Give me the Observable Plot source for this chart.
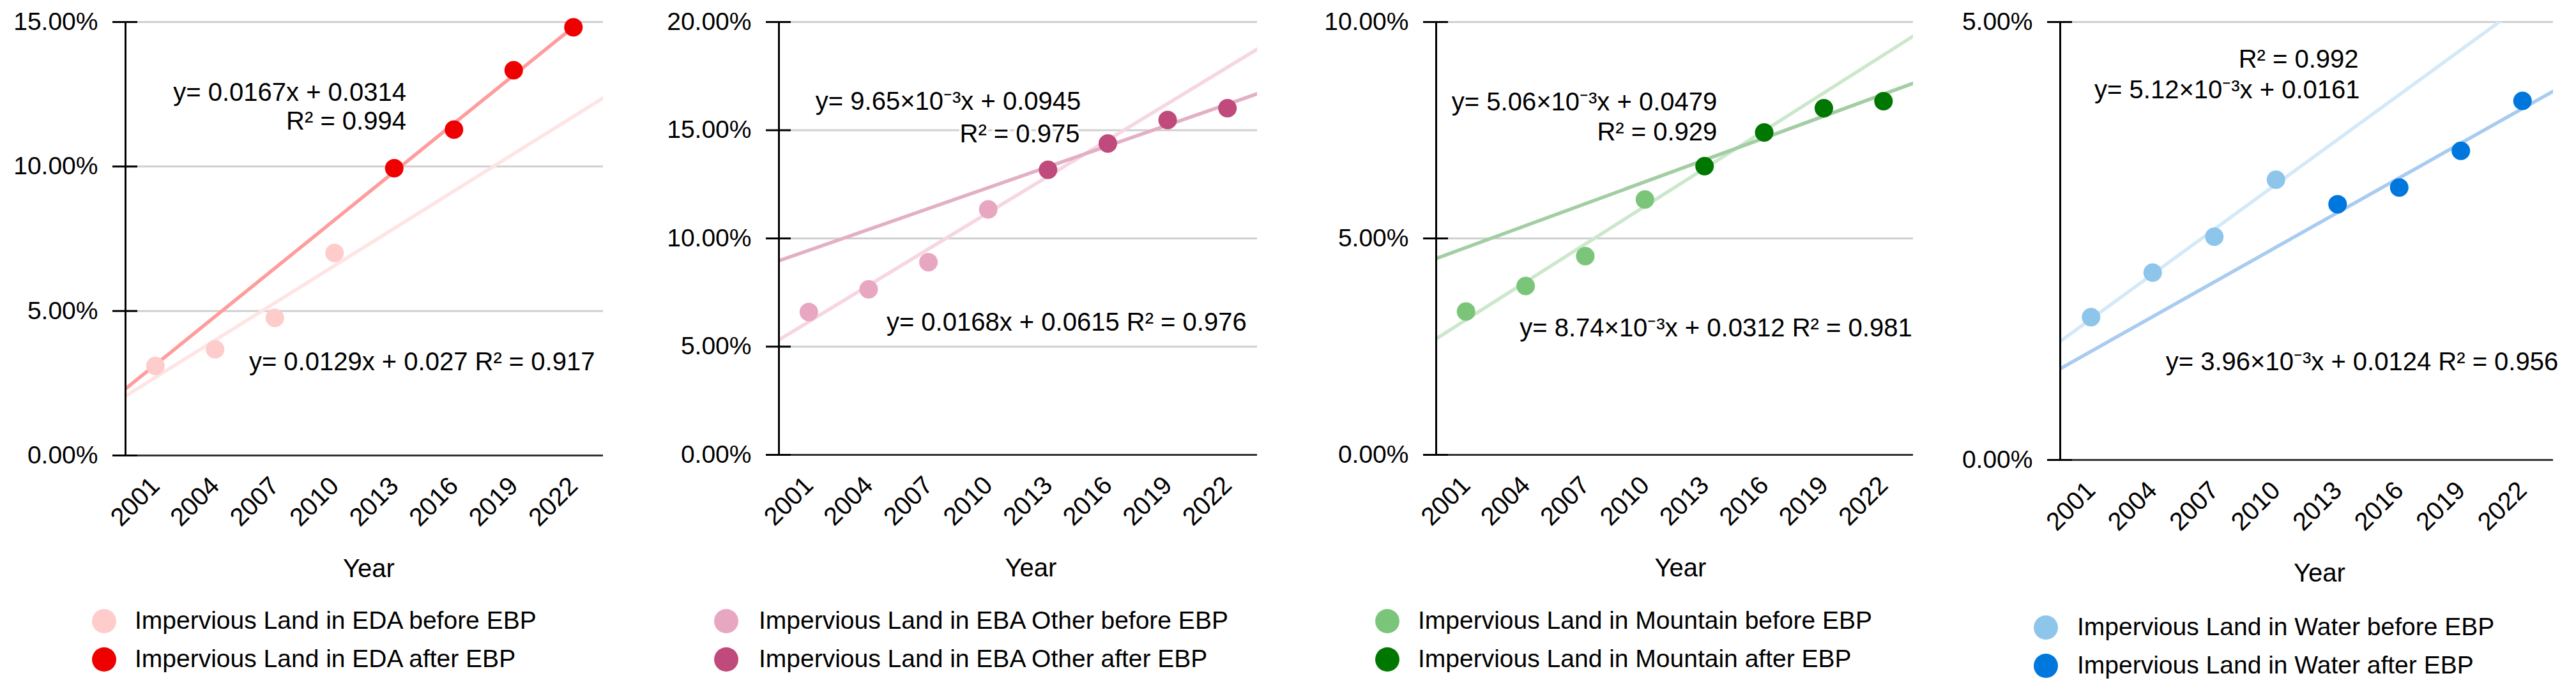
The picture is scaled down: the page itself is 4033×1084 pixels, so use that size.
<!DOCTYPE html>
<html><head><meta charset="utf-8">
<script src="https://cdn.jsdelivr.net/npm/d3@7"></script>
<script src="https://cdn.jsdelivr.net/npm/@observablehq/plot@0.6"></script>
<style>
body{margin:0;background:#fff;font-family:"Liberation Sans",Arial,sans-serif;}
#wrap{position:relative;width:4033px;height:1084px;overflow:hidden;background:#fff;}
.panel{position:absolute;top:0;}
.sw{position:absolute;width:38px;height:38px;border-radius:50%;}
.lt{position:absolute;font-size:39px;line-height:40px;height:40px;white-space:nowrap;color:#000;}
</style></head><body><div id="wrap"></div>
<script>
// ---------- data ----------
const years = [2001, 2004, 2007, 2010, 2013, 2016, 2019, 2022];
const beforeYears = [2001, 2004, 2007, 2010];
const afterYears = [2013, 2016, 2019, 2022];
const regions = ["EDA", "EBA Other", "Mountain", "Water"];

const beforeEDA = [0.0310, 0.0367, 0.0476, 0.0701];
const afterEDA = [0.0994, 0.1128, 0.1333, 0.1482];
const beforeEBAOther = [0.0660, 0.0765, 0.0890, 0.1134];
const afterEBAOther = [0.1317, 0.1439, 0.1547, 0.1602];
const beforeMountain = [0.0331, 0.0390, 0.0459, 0.0590];
const afterMountain = [0.0667, 0.0745, 0.0801, 0.0817];
const beforeWater = [0.0163, 0.0214, 0.0255, 0.0320];
const afterWater = [0.0292, 0.0311, 0.0353, 0.0410];

// trendline coefficients as printed on the chart (x = 0 at 2001, step = 3 years)
const slopeBefore = [0.0129, 0.0168, 0.00874, 0.00512];
const interceptBefore = [0.027, 0.0615, 0.0312, 0.0161];
const slopeAfter = [0.0167, 0.00965, 0.00506, 0.00396];
const interceptAfter = [0.0314, 0.0945, 0.0479, 0.0124];

const yTicks = [
  [0, 0.05, 0.10, 0.15],
  [0, 0.05, 0.10, 0.15, 0.20],
  [0, 0.05, 0.10],
  [0, 0.05]
];

// equation labels: text, anchor position (x index, y value)
const eqLabels = [
  [{t: "y= 0.0167x + 0.0314", x: 4.20, y: 0.1256}, {t: "R\u00B2 = 0.994", x: 4.20, y: 0.1157}, {t: "y= 0.0129x + 0.027 R\u00B2 = 0.917", x: 7.36, y: 0.0324}],
  [{t: "y= 9.65\u00D710\u207B\u00B3x + 0.0945", x: 4.55, y: 0.1632}, {t: "R\u00B2 = 0.975", x: 4.53, y: 0.1481}, {t: "y= 0.0168x + 0.0615 R\u00B2 = 0.976", x: 7.32, y: 0.0612}],
  [{t: "y= 5.06\u00D710\u207B\u00B3x + 0.0479", x: 4.21, y: 0.0814}, {t: "R\u00B2 = 0.929", x: 4.21, y: 0.0746}, {t: "y= 8.74\u00D710\u207B\u00B3x + 0.0312 R\u00B2 = 0.981", x: 7.48, y: 0.0292}],
  [{t: "R\u00B2 = 0.992", x: 4.34, y: 0.04575}, {t: "y= 5.12\u00D710\u207B\u00B3x + 0.0161", x: 4.36, y: 0.0422}, {t: "y= 3.96\u00D710\u207B\u00B3x + 0.0124 R\u00B2 = 0.956", x: 7.58, y: 0.0112}]
];

// ---------- styles / layout ----------
const seriesBefore = [beforeEDA, beforeEBAOther, beforeMountain, beforeWater];
const seriesAfter = [afterEDA, afterEBAOther, afterMountain, afterWater];
const dotBefore = ["#ffcccc", "#e8a7c1", "#7bc57b", "#8ec6eb"];
const dotAfter = ["#ee0000", "#bf4a7b", "#007700", "#0077dd"];
const lineBeforeC = ["#ffe4e4", "#f6d6e3", "#cce8cc", "#d4e9f8"];
const lineAfterC = ["#ff9c9c", "#e3afc5", "#a3cda3", "#a9cbf0"];
const axisX0 = [196, 1219, 2248, 3225];
const plotW = [748, 749, 747, 772];
const plotBottom = [713, 712, 712, 720];
const yearDx = [7, 20, 9, 20];
const legendCircleX = [163, 1137, 2172, 3203];
const legendTextX = [211, 1188, 2220, 3252];
const legendRowY = [[973, 1033], [973, 1033], [973, 1033], [983, 1043]];

const ML = 196, MR = 40, MT = 34, H = 960;
const xDomain = [-0.5, years.length - 0.5];
const font = '"Liberation Sans", Arial, sans-serif';
const wrap = document.getElementById("wrap");

for (let k = 0; k < 4; k++) {
  const before = beforeYears.map((yr, j) => ({i: years.indexOf(yr), v: seriesBefore[k][j]}));
  const after = afterYears.map((yr, j) => ({i: years.indexOf(yr), v: seriesAfter[k][j]}));
  const trendB = xDomain.map(x => ({x, y: interceptBefore[k] + slopeBefore[k] * x}));
  const trendA = xDomain.map(x => ({x, y: interceptAfter[k] + slopeAfter[k] * x}));
  const ticks = yTicks[k];

  const plot = Plot.plot({
    width: ML + plotW[k] + MR,
    height: H,
    marginLeft: ML, marginRight: MR, marginTop: MT, marginBottom: H - plotBottom[k],
    style: {fontFamily: font, fontSize: "39px", color: "#000", background: "transparent", overflow: "visible"},
    x: {domain: xDomain, label: null},
    y: {domain: [0, ticks[ticks.length - 1]], label: null},
    marks: [
      Plot.ruleY(ticks.filter(t => t > 0), {stroke: "#d0d0d0", strokeWidth: 3}),
      Plot.line(trendB, {x: "x", y: "y", stroke: lineBeforeC[k], strokeWidth: 5.5, clip: true}),
      Plot.line(trendA, {x: "x", y: "y", stroke: lineAfterC[k], strokeWidth: 5.5, clip: true}),
      Plot.dot(before, {x: "i", y: "v", r: 14.5, fill: dotBefore[k]}),
      Plot.dot(after, {x: "i", y: "v", r: 14.5, fill: dotAfter[k]}),
      Plot.ruleY([0], {stroke: "#333", strokeWidth: 3}),
      Plot.ruleX([xDomain[0]], {stroke: "#000", strokeWidth: 3}),
      Plot.axisY({ticks, tickFormat: d3.format(".2%"), tickSize: 20, tickPadding: 23, stroke: "#000", strokeWidth: 3}),
      Plot.axisY({ticks, tickFormat: () => "", tickSize: 19, dx: 19, stroke: "#000", strokeWidth: 3}),
      Plot.axisX({ticks: years.map((d, i) => i), tickFormat: i => String(years[i]), tickRotate: -45, tickSize: 0, tickPadding: 41, fontSize: 40}),
      Plot.text(eqLabels[k], {x: "x", y: "y", text: "t", textAnchor: "end", fill: "#000", stroke: "white", strokeWidth: 8, fontSize: 40}),
      Plot.text(["Year"], {frameAnchor: "bottom", dy: 190, dx: yearDx[k], fill: "#000", fontSize: 40})
    ]
  });
  plot.classList.add("panel");
  plot.style.left = (axisX0[k] - ML) + "px";
  wrap.appendChild(plot);

  const labels = [`Impervious Land in ${regions[k]} before EBP`, `Impervious Land in ${regions[k]} after EBP`];
  const cols = [dotBefore[k], dotAfter[k]];
  labels.forEach((lab, r) => {
    const cy = legendRowY[k][r];
    const c = document.createElement("div");
    c.className = "sw";
    c.style.left = (legendCircleX[k] - 19) + "px";
    c.style.top = (cy - 19) + "px";
    c.style.background = cols[r];
    wrap.appendChild(c);
    const t = document.createElement("div");
    t.className = "lt";
    t.style.left = legendTextX[k] + "px";
    t.style.top = (cy - 21) + "px";
    t.textContent = lab;
    wrap.appendChild(t);
  });
}
</script></body></html>
